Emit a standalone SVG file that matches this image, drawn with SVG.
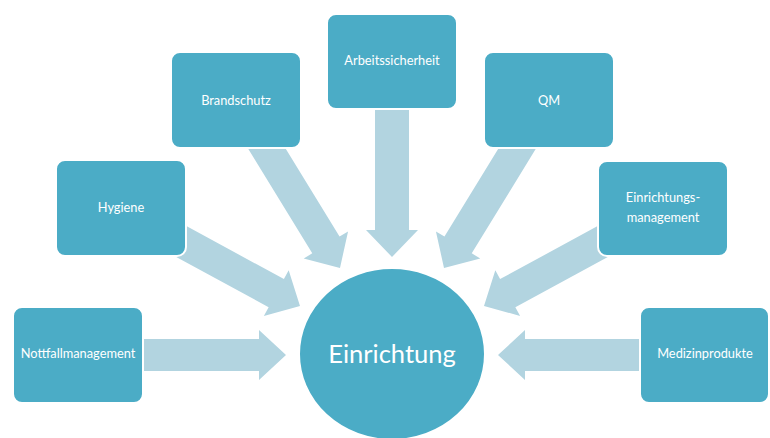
<svg xmlns="http://www.w3.org/2000/svg" width="770" height="438" viewBox="0 0 770 438">
<style>
.box{fill:#4BACC6;stroke:#ffffff;stroke-width:2}
.arr{fill:#B2D4E0}
.t{font-family:Lato,"Open Sans","DejaVu Sans",sans-serif;font-size:12.8px;fill:#ffffff;text-anchor:middle}
.c{font-family:Lato,"Open Sans","DejaVu Sans",sans-serif;font-size:25.5px;fill:#ffffff;text-anchor:middle}
</style>
<rect width="770" height="438" fill="#ffffff"/>
<g id="connectors">
<polygon class="arr" transform="translate(286,355)" points="0,0 -27,-25 -27,-16 -145,-16 -145,16 -27,16 -27,25"/>
<polygon class="arr" transform="translate(498,355) rotate(180)" points="0,0 -27,-25 -27,-16 -145,-16 -145,16 -27,16 -27,25"/>
<polygon class="arr" transform="translate(392,257) rotate(90)" points="0,0 -27,-26 -27,-17 -150,-17 -150,17 -27,17 -27,26"/>
<polygon class="arr" transform="translate(340,268) rotate(58.5)" points="0,0 -27,-26 -27,-16 -152,-16 -152,16 -27,16 -27,26"/>
<polygon class="arr" transform="translate(444,268) rotate(121.5)" points="0,0 -27,-26 -27,-16 -152,-16 -152,16 -27,16 -27,26"/>
<polygon class="arr" transform="translate(300,306) rotate(28.5)" points="0,0 -27,-26 -27,-16 -150,-16 -150,16 -27,16 -27,26"/>
<polygon class="arr" transform="translate(484,306) rotate(151.5)" points="0,0 -27,-26 -27,-16 -150,-16 -150,16 -27,16 -27,26"/>
</g>
<g id="nottfallmanagement">
<rect class="box" x="13" y="307" width="130" height="96" rx="9"/>
<text class="t" x="78" y="358">Nottfallmanagement</text>
</g>
<g id="hygiene">
<rect class="box" x="56" y="160" width="130" height="96" rx="9"/>
<text class="t" x="121" y="212">Hygiene</text>
</g>
<g id="brandschutz">
<rect class="box" x="171" y="52" width="130" height="96" rx="9"/>
<text class="t" x="236" y="105">Brandschutz</text>
</g>
<g id="arbeitssicherheit">
<rect class="box" x="327" y="14" width="130" height="95" rx="9"/>
<text class="t" x="392" y="65">Arbeitssicherheit</text>
</g>
<g id="qm">
<rect class="box" x="484" y="52" width="130" height="96" rx="9"/>
<text class="t" x="549" y="105">QM</text>
</g>
<g id="einrichtungsmanagement">
<rect class="box" x="598" y="161" width="130" height="95" rx="9"/>
<text class="t" x="663" y="202">Einrichtungs-</text>
<text class="t" x="663" y="222">management</text>
</g>
<g id="medizinprodukte">
<rect class="box" x="640" y="307" width="129" height="96" rx="9"/>
<text class="t" x="705" y="358">Medizinprodukte</text>
</g>
<g id="einrichtung">
<ellipse cx="392" cy="354" rx="93" ry="86" fill="#4BACC6" stroke="#ffffff" stroke-width="2"/>
<text class="c" x="392" y="363">Einrichtung</text>
</g>
</svg>
